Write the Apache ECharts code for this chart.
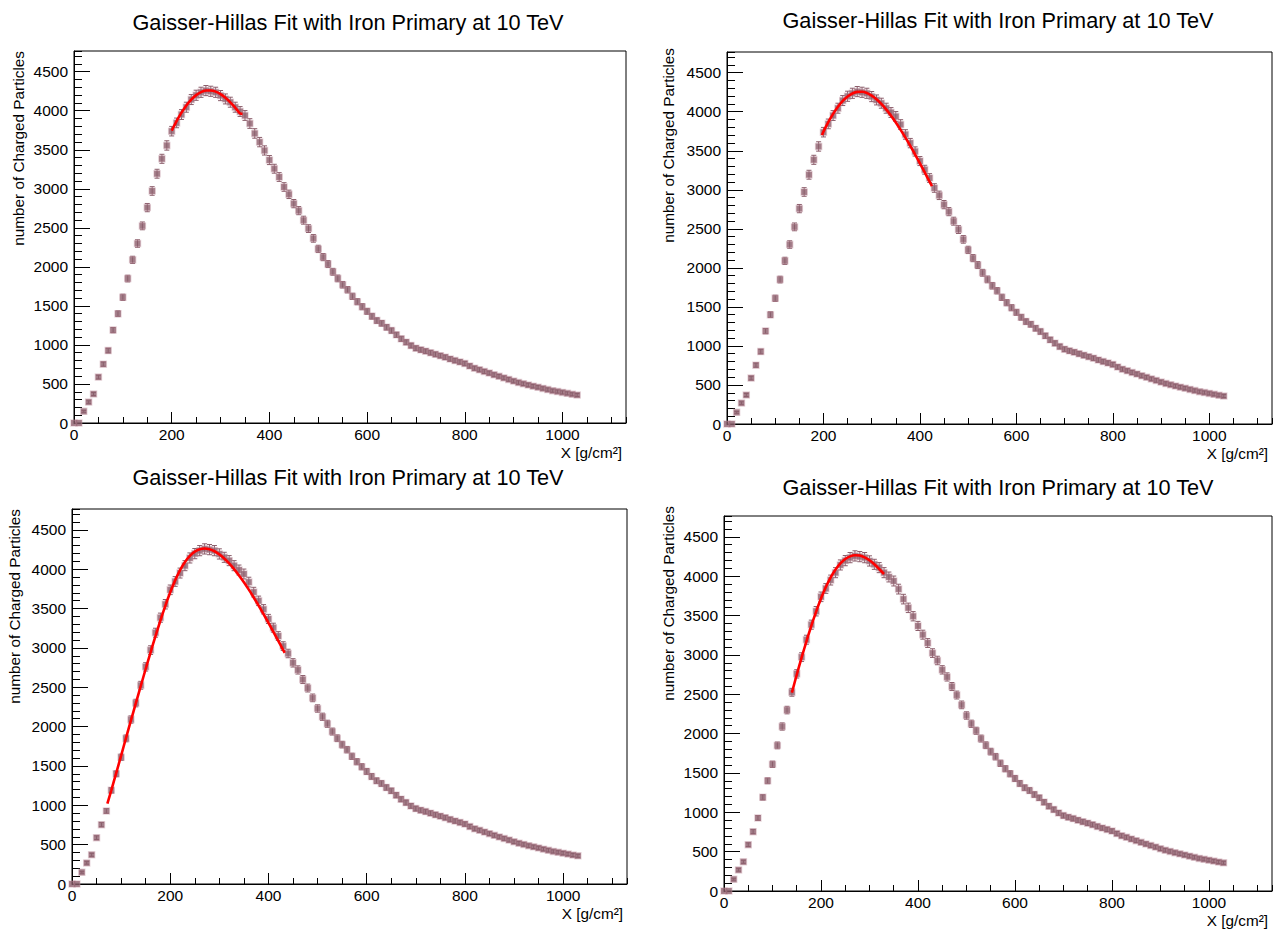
<!DOCTYPE html>
<html>
<head>
<meta charset="utf-8">
<script src="https://cdn.jsdelivr.net/npm/echarts@6/dist/echarts.min.js"></script>
<style>
html,body{margin:0;padding:0;background:#fff;}
#chart{width:1282px;height:929px;}
</style>
</head>
<body>
<div id="chart"></div>
<script>
// ---- data ----
const titleText = 'Gaisser-Hillas Fit with Iron Primary at 10 TeV';
const yAxisTitle = 'number of Charged Particles';
const xAxisTitle = 'X [g/cm\u00B2]';
const xTickLabels = [0, 200, 400, 600, 800, 1000];
const yTickLabels = [0, 500, 1000, 1500, 2000, 2500, 3000, 3500, 4000, 4500];

const depth = [0,10,20,30,40,50,60,70,80,90,100,110,120,130,140,150,160,170,180,190,
  200,210,220,230,240,250,260,270,280,290,300,310,320,330,340,350,360,370,380,390,
  400,410,420,430,440,450,460,470,480,490,500,510,520,530,540,550,560,570,580,590,
  600,610,620,630,640,650,660,670,680,690,700,710,720,730,740,750,760,770,780,790,
  800,810,820,830,840,850,860,870,880,890,900,910,920,930,940,950,960,970,980,990,
  1000,1010,1020,1030];
const particles = [0,0,149,268,371,588,754,928,1190,1400,1610,1850,2090,2299,2525,2759,2972,3193,3384,3555,
  3738,3844,3951,4045,4143,4198,4236,4258,4249,4236,4194,4151,4109,4045,3990,3939,3836,3709,3598,3491,
  3368,3257,3151,3023,2929,2810,2720,2598,2490,2365,2230,2125,2036,1937,1852,1771,1707,1622,1554,1490,
  1430,1367,1312,1277,1226,1184,1129,1078,1035,992,958,937,920,900,880,862,843,820,800,782,
  762,730,702,682,660,640,618,598,578,558,537,518,503,487,472,458,443,428,414,403,
  392,380,368,358];
const particleErr = [0,0,12,16,19,24,27,30,34,37,40,43,46,48,50,53,55,57,58,60,
  61,62,63,64,64,65,65,65,65,65,65,64,64,64,63,63,62,61,60,59,
  58,57,56,55,54,53,52,51,50,49,47,46,45,44,43,42,41,40,39,39,
  38,37,36,36,35,34,34,33,32,31,31,31,30,30,30,29,29,29,28,28,
  28,27,26,26,26,25,25,24,24,24,23,23,22,22,22,21,21,21,20,20,
  20,19,19,19];

// fitted Gaisser-Hillas curves (one per panel)
const fit1X = [200,210,220,230,240,250,260,270,280,290,300,310,320,330,340,345];
const fit1Y = [3745,3868,3975,4068,4143,4200,4238,4258,4260,4245,4213,4166,4108,4040,3965,3960];
const fit2X = [197,200,210,220,230,240,250,260,270,280,290,300,310,320,330,340,350,360,370,380,390,400,410,420,425];
const fit2Y = [3700,3745,3866,3972,4063,4138,4195,4234,4254,4256,4240,4207,4160,4100,4030,3950,3862,3768,3668,3562,3452,3338,3222,3105,3046];
const fit3X = [72,80,90,100,110,120,130,140,150,160,170,180,190,200,210,220,230,240,250,260,270,280,290,300,310,320,330,340,350,360,370,380,390,400,410,420,430,433];
const fit3Y = [1020,1190,1410,1632,1856,2078,2298,2516,2732,2944,3150,3348,3534,3706,3858,3988,4092,4170,4224,4254,4263,4253,4228,4188,4136,4073,4001,3921,3834,3740,3641,3537,3429,3318,3204,3089,2973,2938];
const fit4X = [140,150,160,170,180,190,200,210,220,230,240,250,260,270,280,290,300,310,320,330];
const fit4Y = [2520,2748,2965,3172,3368,3550,3716,3862,3985,4085,4163,4218,4252,4266,4262,4240,4203,4153,4092,4028];

const X_MAX = 1130;
const Y_MAX = 4765;

// ---- layout ----
const FONT = '"Liberation Sans", Arial, Helvetica, sans-serif';
const MARK = '#8b5e6b';
const panels = [
  {grid:{left:74, top:51, width:552, height:372}, fx:fit1X, fy:fit1Y, title:[348,22], ylab:[18,51], xlab:[622,452]},
  {grid:{left:727, top:52, width:545, height:372}, fx:fit2X, fy:fit2Y, title:[998,20], ylab:[668,48], xlab:[1268,453]},
  {grid:{left:72, top:509, width:555, height:375}, fx:fit3X, fy:fit3Y, title:[348,477], ylab:[14,509], xlab:[623,913]},
  {grid:{left:724, top:516, width:548, height:375}, fx:fit4X, fy:fit4Y, title:[998,487], ylab:[668,506], xlab:[1268,920]}
];

const grids = [], xAxes = [], yAxes = [], series = [], graphics = [];
const fmt = v => String(v);
const pts = depth.map((x, k) => [x, particles[k], particleErr[k]]);

panels.forEach((p, i) => {
  grids.push(Object.assign({show:true, borderColor:'#000', borderWidth:1, backgroundColor:'transparent', containLabel:false}, p.grid));
  // major x
  xAxes.push({gridIndex:i, type:'value', min:0, max:X_MAX, interval:200, position:'bottom',
    axisLine:{show:true, lineStyle:{color:'#000', width:1}},
    axisTick:{show:true, inside:true, length:11, lineStyle:{color:'#000', width:1}},
    axisLabel:{show:true, formatter:v => (xTickLabels.indexOf(v) >= 0 ? fmt(v) : ''), color:'#000', fontSize:15.5, lineHeight:15, fontFamily:FONT, margin:4, showMaxLabel:false},
    splitLine:{show:false}});
  // minor x
  xAxes.push({gridIndex:i, type:'value', min:0, max:X_MAX, interval:50, position:'bottom',
    axisLine:{show:false}, axisTick:{show:true, inside:true, length:6, lineStyle:{color:'#000', width:1}},
    axisLabel:{show:false}, splitLine:{show:false}});
  // major y
  yAxes.push({gridIndex:i, type:'value', min:0, max:Y_MAX, interval:500, position:'left',
    axisLine:{show:true, lineStyle:{color:'#000', width:1}},
    axisTick:{show:true, inside:true, length:16, lineStyle:{color:'#000', width:1}},
    axisLabel:{show:true, formatter:v => (yTickLabels.indexOf(v) >= 0 ? fmt(v) : ''), color:'#000', fontSize:15.5, fontFamily:FONT, margin:6, showMaxLabel:false},
    splitLine:{show:false}});
  // minor y
  yAxes.push({gridIndex:i, type:'value', min:0, max:Y_MAX, interval:100, position:'left',
    axisLine:{show:false}, axisTick:{show:true, inside:true, length:8, lineStyle:{color:'#000', width:1}},
    axisLabel:{show:false}, splitLine:{show:false}});

  const xi = 2*i, yi = 2*i;
  series.push({type:'custom', xAxisIndex:xi, yAxisIndex:yi, data:pts, z:2, silent:true,
    renderItem:(params, api) => {
      const x = api.value(0), y = api.value(1), e = api.value(2);
      if (e <= 0) return null;
      const t = api.coord([x, y + e]), b = api.coord([x, y - e]);
      const st = {stroke:MARK, lineWidth:1};
      return {type:'group', children:[
        {type:'line', shape:{x1:t[0], y1:t[1], x2:b[0], y2:b[1]}, style:st},
        {type:'line', shape:{x1:t[0]-2.5, y1:t[1], x2:t[0]+2.5, y2:t[1]}, style:st},
        {type:'line', shape:{x1:b[0]-2.5, y1:b[1], x2:b[0]+2.5, y2:b[1]}, style:st}
      ]};
    }});
  series.push({type:'scatter', xAxisIndex:xi, yAxisIndex:yi, data:pts.map(d => [d[0], d[1]]), z:3, silent:true,
    symbol:'rect', symbolSize:6,
    itemStyle:{color:MARK, borderColor:'rgba(190,140,155,0.45)', borderWidth:1.5}});
  series.push({type:'line', xAxisIndex:xi, yAxisIndex:yi, data:p.fx.map((x, k) => [x, p.fy[k]]), z:4, silent:true,
    showSymbol:false, smooth:0.3, lineStyle:{color:'#ff0000', width:2.6}});

  graphics.push({type:'text', x:p.title[0], y:p.title[1], style:{text:titleText, font:'21.7px ' + FONT, fill:'#000', textAlign:'center', textVerticalAlign:'middle'}});
  graphics.push({type:'text', x:p.ylab[0], y:p.ylab[1], rotation:Math.PI/2, style:{text:yAxisTitle, font:'15.3px ' + FONT, fill:'#000', textAlign:'right', textVerticalAlign:'middle'}});
  graphics.push({type:'text', x:p.xlab[0], y:p.xlab[1], style:{text:xAxisTitle, font:'15.3px ' + FONT, fill:'#000', textAlign:'right', textVerticalAlign:'middle', lineHeight:15}});
});

const chart = echarts.init(document.getElementById('chart'), null, {renderer:'svg'});
chart.setOption({
  animation:false,
  backgroundColor:'#fff',
  grid:grids, xAxis:xAxes, yAxis:yAxes, series:series, graphic:graphics
});
</script>
</body>
</html>
